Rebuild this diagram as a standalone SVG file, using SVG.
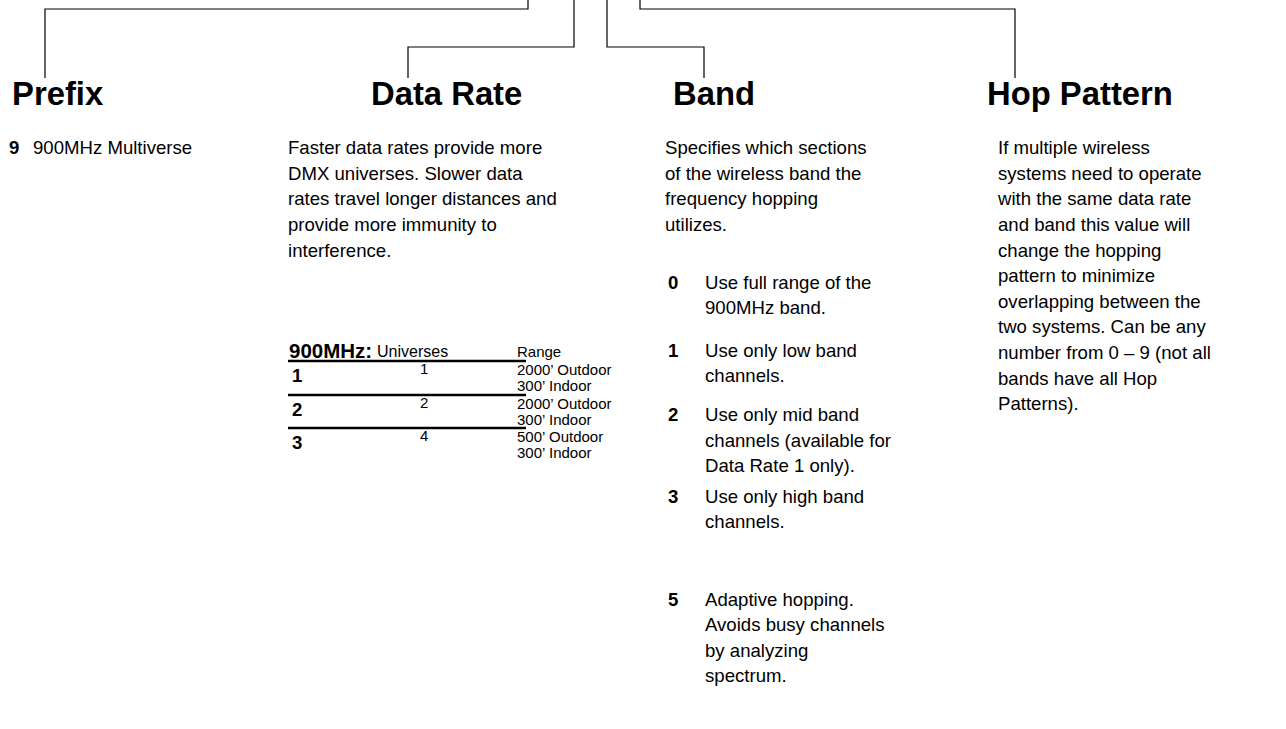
<svg xmlns="http://www.w3.org/2000/svg" width="1286" height="729" viewBox="0 0 1286 729">
<style>
.h{font-family:"Liberation Sans",Arial,sans-serif;font-weight:bold;font-size:32.8px;fill:#000}
.t{font-family:"Liberation Sans",Arial,sans-serif;font-size:18.6px;fill:#000}
.b{font-weight:bold}
.s{font-family:"Liberation Sans",Arial,sans-serif;font-size:15px;fill:#000}
.c{fill:none;stroke:#000;stroke-width:1.2}
.r{stroke:#000;stroke-width:2.5}
</style>
<rect width="1286" height="729" fill="#fff"/>
<g id="connectors">
<polyline class="c" points="528,0 528,9 45,9 45,78"/>
<polyline class="c" points="574,0 574,47 408,47 408,78"/>
<polyline class="c" points="607,0 607,47 704,47 704,78"/>
<polyline class="c" points="640,0 640,9 1015,9 1015,78"/>
</g>
<g id="prefix">
<text class="h" x="12" y="105">Prefix</text>
<text class="t b" x="9" y="154">9</text>
<text class="t" x="33" y="154">900MHz Multiverse</text>
</g>
<g id="data-rate">
<text class="h" x="371" y="105">Data Rate</text>
<text class="t" x="288" y="154">Faster data rates provide more</text>
<text class="t" x="288" y="180">DMX universes. Slower data</text>
<text class="t" x="288" y="205">rates travel longer distances and</text>
<text class="t" x="288" y="231">provide more immunity to</text>
<text class="t" x="288" y="257">interference.</text>
</g>
<g id="table">
<text class="t b" x="289" y="358" style="font-size:20.5px">900MHz:</text>
<text class="s" x="377" y="357" style="font-size:16px">Universes</text>
<text class="s" x="517" y="357">Range</text>
<line class="r" x1="288" y1="361" x2="526" y2="361"/>
<text class="t b" x="292" y="382">1</text>
<text class="s" x="420" y="374">1</text>
<text class="s" x="517" y="375">2000’ Outdoor</text>
<text class="s" x="517" y="391">300’ Indoor</text>
<line class="r" x1="288" y1="395" x2="526" y2="395"/>
<text class="t b" x="292" y="416">2</text>
<text class="s" x="420" y="408">2</text>
<text class="s" x="517" y="409">2000’ Outdoor</text>
<text class="s" x="517" y="425">300’ Indoor</text>
<line class="r" x1="288" y1="428" x2="526" y2="428"/>
<text class="t b" x="292" y="449">3</text>
<text class="s" x="420" y="441">4</text>
<text class="s" x="517" y="442">500’ Outdoor</text>
<text class="s" x="517" y="458">300’ Indoor</text>
</g>
<g id="band">
<text class="h" x="673" y="105">Band</text>
<text class="t" x="665" y="154">Specifies which sections</text>
<text class="t" x="665" y="180">of the wireless band the</text>
<text class="t" x="665" y="205">frequency hopping</text>
<text class="t" x="665" y="231">utilizes.</text>
<text class="t b" x="668" y="289">0</text>
<text class="t" x="705" y="289">Use full range of the</text>
<text class="t" x="705" y="314">900MHz band.</text>
<text class="t b" x="668" y="357">1</text>
<text class="t" x="705" y="357">Use only low band</text>
<text class="t" x="705" y="382">channels.</text>
<text class="t b" x="668" y="421">2</text>
<text class="t" x="705" y="421">Use only mid band</text>
<text class="t" x="705" y="447">channels (available for</text>
<text class="t" x="705" y="472">Data Rate 1 only).</text>
<text class="t b" x="668" y="503">3</text>
<text class="t" x="705" y="503">Use only high band</text>
<text class="t" x="705" y="528">channels.</text>
<text class="t b" x="668" y="606">5</text>
<text class="t" x="705" y="606">Adaptive hopping.</text>
<text class="t" x="705" y="631">Avoids busy channels</text>
<text class="t" x="705" y="657">by analyzing</text>
<text class="t" x="705" y="682">spectrum.</text>
</g>
<g id="hop-pattern">
<text class="h" x="987" y="105">Hop Pattern</text>
<text class="t" x="998" y="154">If multiple wireless</text>
<text class="t" x="998" y="180">systems need to operate</text>
<text class="t" x="998" y="205">with the same data rate</text>
<text class="t" x="998" y="231">and band this value will</text>
<text class="t" x="998" y="257">change the hopping</text>
<text class="t" x="998" y="282">pattern to minimize</text>
<text class="t" x="998" y="308">overlapping between the</text>
<text class="t" x="998" y="333">two systems. Can be any</text>
<text class="t" x="998" y="359">number from 0 – 9 (not all</text>
<text class="t" x="998" y="385">bands have all Hop</text>
<text class="t" x="998" y="410">Patterns).</text>
</g>
</svg>
